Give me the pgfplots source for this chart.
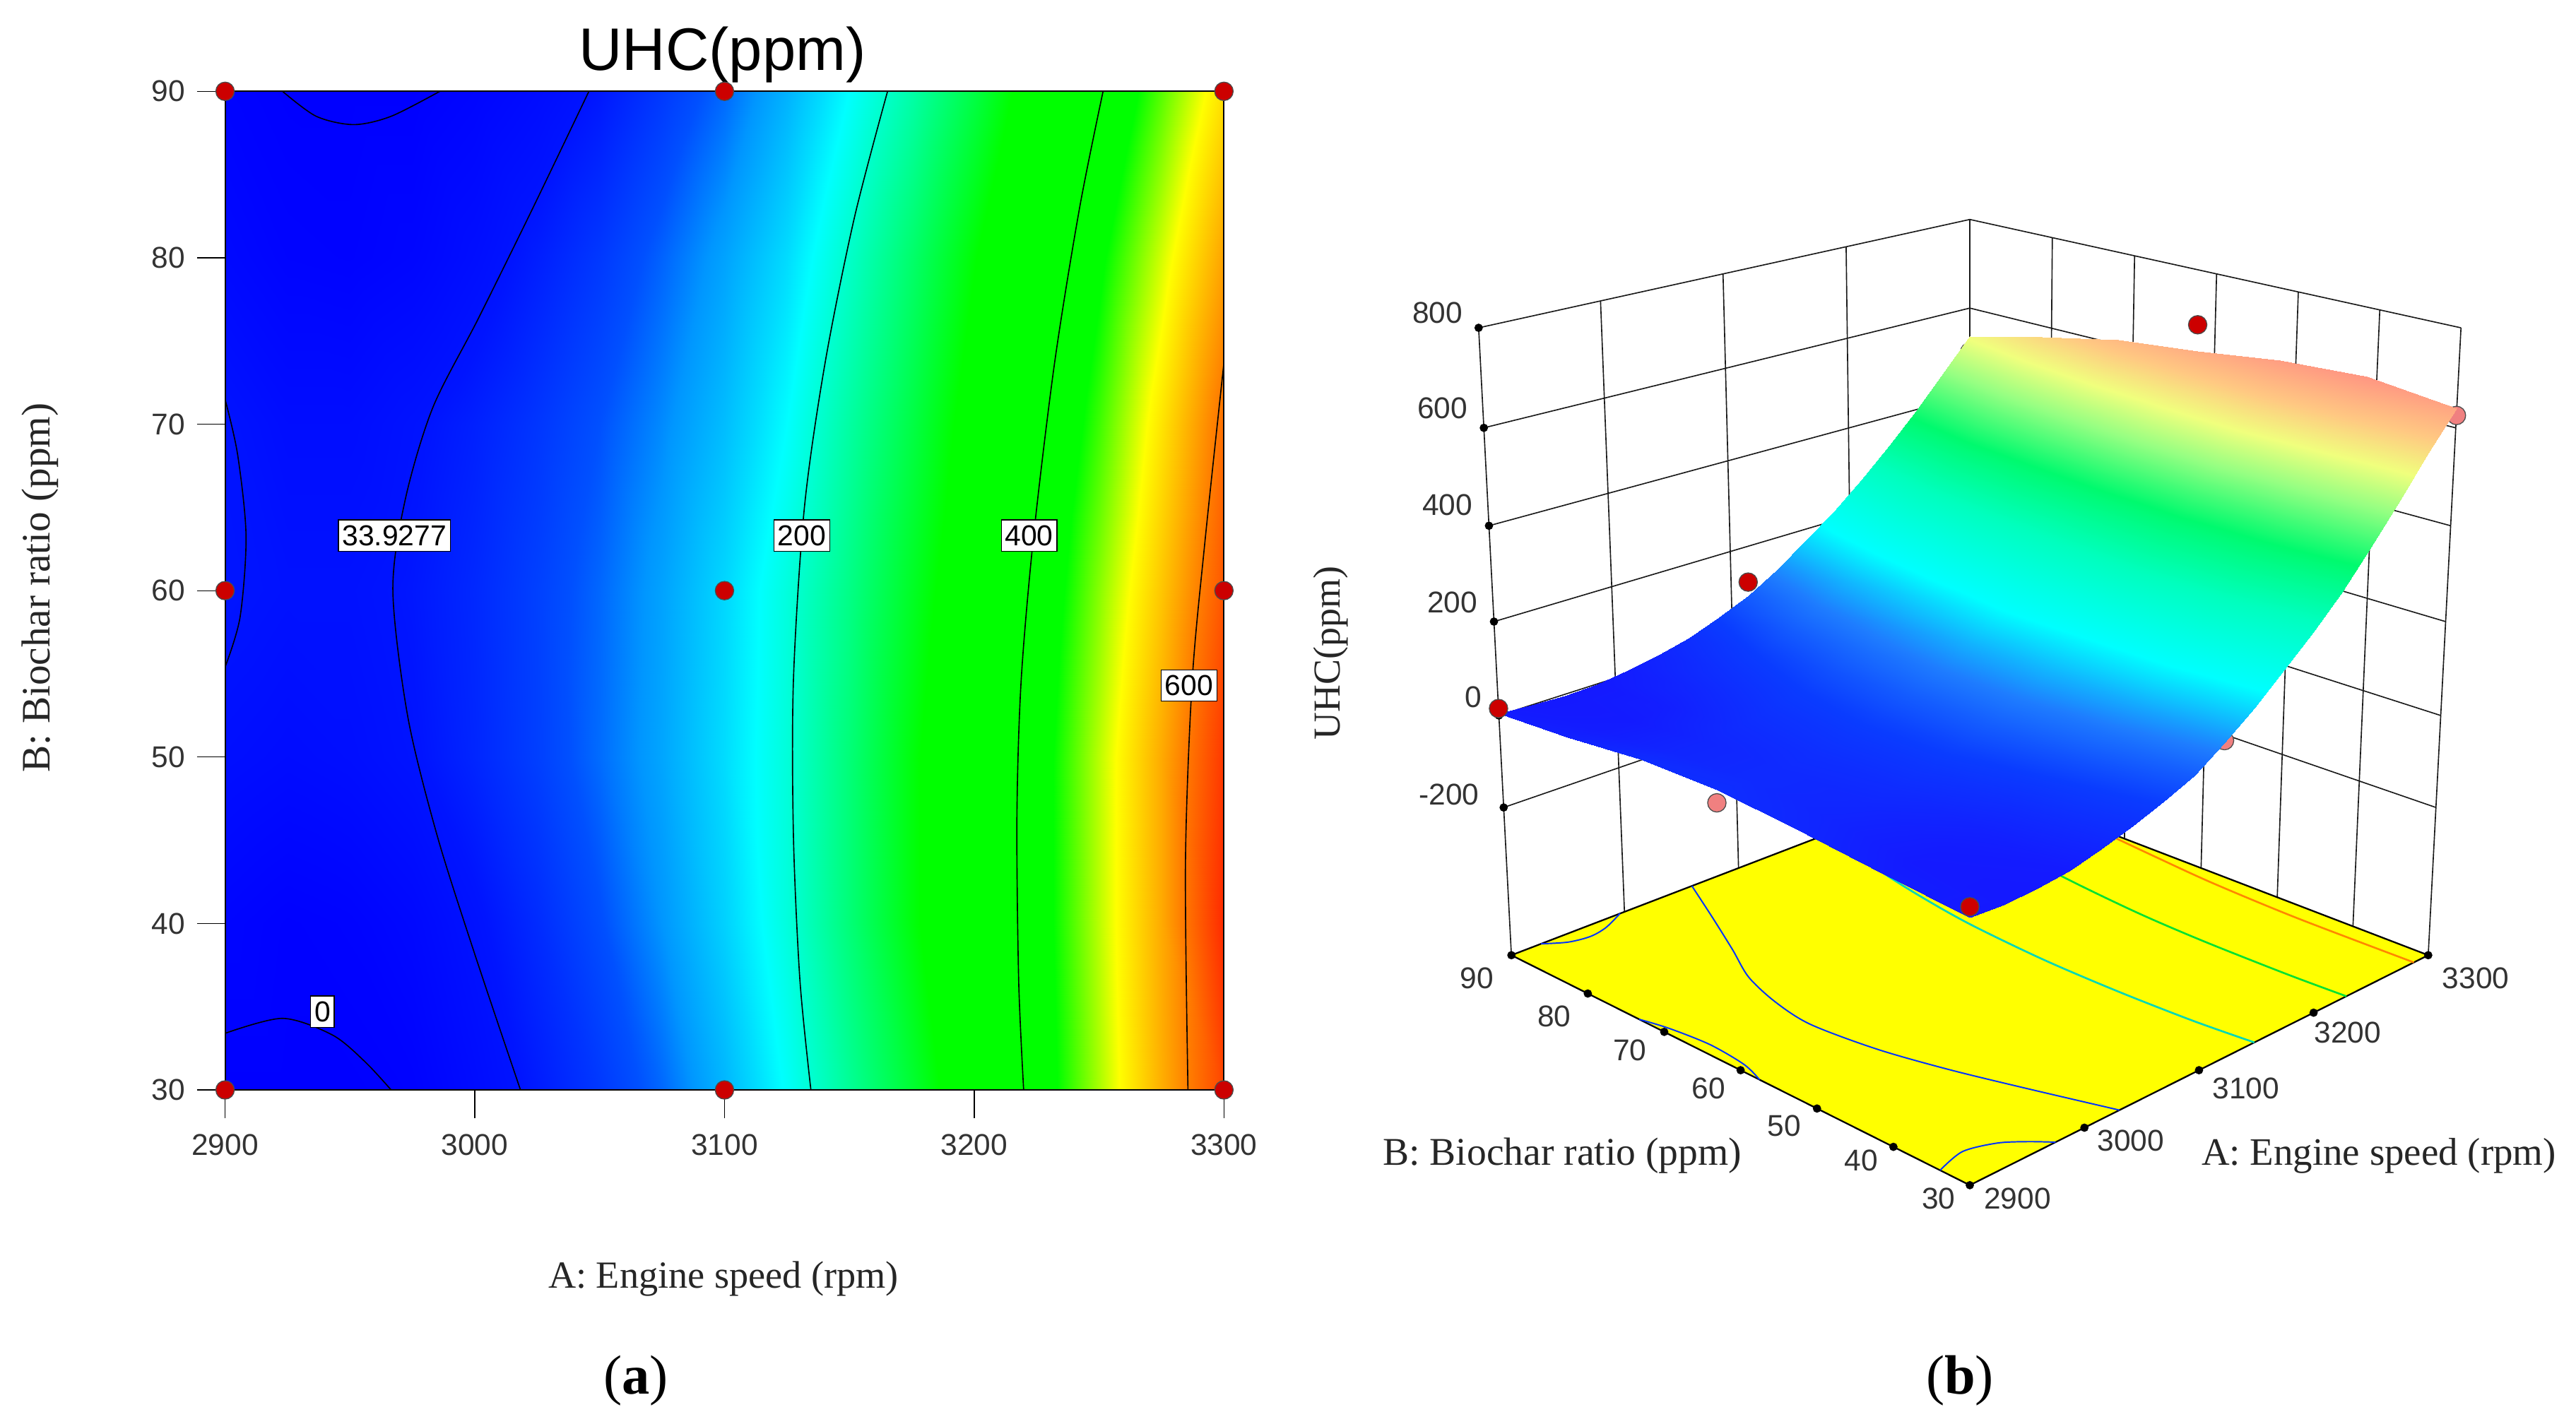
\documentclass[border=0pt]{standalone}
\usepackage{pgfplots}
\usepackage{pgfplotstable}
\usepackage{fontspec}
\pgfplotsset{compat=1.18}
\setmainfont{Liberation Sans}
\newfontfamily\serif{Liberation Serif}
\definecolor{floorY}{RGB}{255,255,0}
\definecolor{dotR}{RGB}{204,0,0}
\definecolor{dotP}{RGB}{240,128,128}

% response surface: A (rpm), B (ppm), UHC (ppm)
\pgfplotstableread[row sep=\\]{
a b u \\
3300 90 535 \\ 3275 90 465 \\ 3250 90 397 \\ 3225 90 335 \\ 3200 90 275 \\ 3175 90 222 \\ 3150 90 175 \\ 3125 90 128 \\ 3100 90 90 \\ 3075 90 62 \\ 3050 90 37 \\ 3025 90 20 \\ 3000 90 8 \\ 2975 90 -1 \\ 2950 90 -3 \\ 2925 90 0 \\ 2900 90 5 \\
3300 80 575 \\ 3275 80 502 \\ 3250 80 433 \\ 3225 80 368 \\ 3200 80 310 \\ 3175 80 255 \\ 3150 80 204 \\ 3125 80 155 \\ 3100 80 118 \\ 3075 80 88 \\ 3050 80 62 \\ 3025 80 42 \\ 3000 80 24 \\ 2975 80 10 \\ 2950 80 4 \\ 2925 80 6 \\ 2900 80 15 \\
3300 70 610 \\ 3275 70 532 \\ 3250 70 458 \\ 3225 70 390 \\ 3200 70 330 \\ 3175 70 275 \\ 3150 70 225 \\ 3125 70 175 \\ 3100 70 135 \\ 3075 70 105 \\ 3050 70 80 \\ 3025 70 60 \\ 3000 70 44 \\ 2975 70 32 \\ 2950 70 22 \\ 2925 70 22 \\ 2900 70 33 \\
3300 60 628 \\ 3275 60 552 \\ 3250 60 480 \\ 3225 60 408 \\ 3200 60 345 \\ 3175 60 292 \\ 3150 60 240 \\ 3125 60 193 \\ 3100 60 152 \\ 3075 60 118 \\ 3050 60 90 \\ 3025 60 68 \\ 3000 60 50 \\ 2975 60 37 \\ 2950 60 30 \\ 2925 60 30 \\ 2900 60 36 \\
3300 50 650 \\ 3275 50 570 \\ 3250 50 495 \\ 3225 50 420 \\ 3200 50 360 \\ 3175 50 305 \\ 3150 50 248 \\ 3125 50 195 \\ 3100 50 155 \\ 3075 50 120 \\ 3050 50 92 \\ 3025 50 67 \\ 3000 50 48 \\ 2975 50 33 \\ 2950 50 24 \\ 2925 50 20 \\ 2900 50 25 \\
3300 40 660 \\ 3275 40 570 \\ 3250 40 495 \\ 3225 40 420 \\ 3200 40 360 \\ 3175 40 305 \\ 3150 40 248 \\ 3125 40 193 \\ 3100 40 148 \\ 3075 40 110 \\ 3050 40 78 \\ 3025 40 52 \\ 3000 40 31 \\ 2975 40 14 \\ 2950 40 5 \\ 2925 40 2 \\ 2900 40 8 \\
3300 30 640 \\ 3275 30 567 \\ 3250 30 490 \\ 3225 30 415 \\ 3200 30 345 \\ 3175 30 285 \\ 3150 30 231 \\ 3125 30 178 \\ 3100 30 130 \\ 3075 30 90 \\ 3050 30 62 \\ 3025 30 40 \\ 3000 30 20 \\ 2975 30 3 \\ 2950 30 -4 \\ 2925 30 -8 \\ 2900 30 -5 \\
}\uhcdata

% contour lines, all at the floor level when they go on panel (b)
\pgfplotstableread[row sep=\\]{
a b \\ 2900 33.4 \\ 2923 34.3 \\ 2943 33.3 \\ 2956 31.7 \\ 2966.5 30 \\
}\czeroa
\pgfplotstableread[row sep=\\]{
a b \\ 2923 90 \\ 2936.5 88.5 \\ 2951.5 88 \\ 2966.5 88.5 \\ 2986 90 \\
}\czerob
\pgfplotstableread[row sep=\\]{
a b \\ 2900 71.5 \\ 2905 68.2 \\ 2908.4 63.3 \\ 2906 58.4 \\ 2900 55.4 \\
}\cear
\pgfplotstableread[row sep=\\]{
a b \\ 3045.7 90 \\ 3023.3 83 \\ 3001.6 76.4 \\ 2983.2 71 \\ 2972.2 65.5 \\ 2967.2 60 \\ 2973.2 52.4 \\ 2984.9 45.3 \\ 2999.9 38.2 \\ 3018.3 30 \\
}\cmid
\pgfplotstableread[row sep=\\]{
a b \\ 3165.3 90 \\ 3152 82.4 \\ 3140.3 73.7 \\ 3132 65 \\ 3127.6 54.6 \\ 3127.6 45.3 \\ 3130.2 36.6 \\ 3134.6 30 \\
}\ctwo
\pgfplotstableread[row sep=\\]{
a b \\ 3251.6 90 \\ 3242.2 83 \\ 3232.2 73.7 \\ 3223.8 63.3 \\ 3218.8 54.6 \\ 3217.1 46.4 \\ 3217.8 36.6 \\ 3219.8 30 \\
}\cfour
\pgfplotstableread[row sep=\\]{
a b \\ 3300 73.7 \\ 3292.3 62.8 \\ 3287.3 54.6 \\ 3284.6 43.7 \\ 3285.6 30 \\
}\csix

% design points of panel (a)
\pgfplotstableread[row sep=\\]{
a b \\ 2900 30 \\ 3100 30 \\ 3300 30 \\ 2900 60 \\ 3100 60 \\ 3300 60 \\ 2900 90 \\ 3100 90 \\ 3300 90 \\
}\design

% box of panel (b)
\pgfplotstableread[row sep=\\]{
a b u \\
2900 90 -530 \\ 2900 90 800 \\ nan nan nan \\
3000 90 -530 \\ 3000 90 800 \\ nan nan nan \\
3100 90 -530 \\ 3100 90 800 \\ nan nan nan \\
3200 90 -530 \\ 3200 90 800 \\ nan nan nan \\
3300 90 -530 \\ 3300 90 800 \\ nan nan nan \\
3300 80 -530 \\ 3300 80 800 \\ nan nan nan \\
3300 70 -530 \\ 3300 70 800 \\ nan nan nan \\
3300 60 -530 \\ 3300 60 800 \\ nan nan nan \\
3300 50 -530 \\ 3300 50 800 \\ nan nan nan \\
3300 40 -530 \\ 3300 40 800 \\ nan nan nan \\
3300 30 -530 \\ 3300 30 800 \\ nan nan nan \\
2900 90 800 \\ 3300 90 800 \\ 3300 30 800 \\ nan nan nan \\
2900 90 600 \\ 3300 90 600 \\ 3300 30 600 \\ nan nan nan \\
2900 90 400 \\ 3300 90 400 \\ 3300 30 400 \\ nan nan nan \\
2900 90 200 \\ 3300 90 200 \\ 3300 30 200 \\ nan nan nan \\
2900 90 0 \\ 3300 90 0 \\ 3300 30 0 \\ nan nan nan \\
2900 90 -200 \\ 3300 90 -200 \\ 3300 30 -200 \\
}\boxlines
\pgfplotstableread[row sep=\\]{
a b u \\ 2900 30 -530 \\ 3300 30 -530 \\ 3300 90 -530 \\ 2900 90 -530 \\ 2900 30 -530 \\
}\floorlines
\pgfplotstableread[row sep=\\]{
a b u \\
2900 90 800 \\ 2900 90 600 \\ 2900 90 400 \\ 2900 90 200 \\ 2900 90 0 \\ 2900 90 -200 \\
2900 90 -530 \\ 2900 80 -530 \\ 2900 70 -530 \\ 2900 60 -530 \\ 2900 50 -530 \\ 2900 40 -530 \\ 2900 30 -530 \\
3000 30 -530 \\ 3100 30 -530 \\ 3200 30 -530 \\ 3300 30 -530 \\
}\tickdots
\pgfplotstableread[row sep=\\]{
a b u \\ 3100 90 120 \\ 3300 60 684 \\
}\darkpts
\pgfplotstableread[row sep=\\]{
a b u \\ 2900 60 10 \\ 3100 30 135 \\ 3300 90 500 \\ 3300 30 625 \\
}\palepts
\pgfplotstableread[row sep=\\]{
a b u \\ 2900 90 15 \\ 2900 30 15 \\
}\frontpts

% perspective of the box in panel (b), result in picture units
\newcommand{\prd}[3]{(1+0.154*((#1)+(#2))-0.077*(#3))}
\newcommand{\prx}[3]{1199+322*((#1)-(#2))/\prd{#1}{#2}{#3}}
\newcommand{\pry}[3]{145+(161.6*((#1)+(#2))+400.6*(#3))/\prd{#1}{#2}{#3}}
\newcommand{\ua}{((\thisrow{a}-2900)/400)}
\newcommand{\vb}{((\thisrow{b}-30)/60)}
\newcommand{\wu}{((\thisrow{u}+530)/1330)}
% the box's grid and ticks are evenly spaced along its edges
\newcommand{\ual}{(0.8665*\ua/(1-0.1335*\ua))}
\newcommand{\vbl}{(0.8665*\vb/(1-0.1335*\vb))}
\pgfplotsset{
  /pgfplots/table/proj/.style={x expr={\prx{\ua}{\vb}{\wu}}, y expr={\pry{\ua}{\vb}{\wu}}},
  /pgfplots/table/projbox/.style={x expr={\prx{\ual}{\vbl}{\wu}}, y expr={\pry{\ual}{\vbl}{\wu}}},
  /pgfplots/table/projfloor/.style={x expr={\prx{\ua}{\vb}{0}}, y expr={\pry{\ua}{\vb}{0}}},
  flatmap/.style={colormap={uhcflat}{rgb255(0)=(0,0,255) rgb255(35)=(0,20,255) rgb255(80)=(0,80,255) rgb255(110)=(0,150,255) rgb255(155)=(0,220,255) rgb255(175)=(0,255,255) rgb255(312)=(0,255,0) rgb255(440)=(0,255,0) rgb255(515)=(255,255,0) rgb255(597)=(255,128,0) rgb255(690)=(255,0,0)}},
  litmap/.style={colormap={uhclit}{rgb255(0)=(20,25,255) rgb255(60)=(10,60,255) rgb255(120)=(30,125,255) rgb255(200)=(0,255,255) rgb255(300)=(0,255,190) rgb255(385)=(0,250,110) rgb255(470)=(150,255,130) rgb255(530)=(240,255,125) rgb255(590)=(255,200,130) rgb255(660)=(255,150,130)}},
  panelA/.style={
    at={(3.425cm,5.075cm)}, anchor=south west,
    scale only axis, width=15.2cm, height=15.2cm,
    xmin=2900, xmax=3300, ymin=30, ymax=90,
  },
  panelB/.style={
    at={(19.5cm,1.5cm)}, anchor=south west,
    scale only axis, width=19.7cm, height=17.5cm,
    xmin=780, xmax=1568, ymin=60, ymax=760,
    hide axis, clip=false,
  },
  dpt/.style={only marks, mark=*, mark size=4pt, mark options={fill=#1, draw=black!70, line width=0.4pt}},
}
\newcommand{\tl}{\fontsize{13}{13}\selectfont\color{black!80}}

\begin{document}
\begin{tikzpicture}
\path[use as bounding box] (0,0) rectangle (39.2cm,21.665cm);

\begin{axis}[
    panelA, flatmap,
    axis on top,
    point meta min=0, point meta max=690,
    xtick={2900,3000,3100,3200,3300},
    ytick={30,40,50,60,70,80,90},
    xtick pos=bottom, ytick pos=left,
    tick align=outside,
    major tick length=0.43cm,
    tick style={black, line width=0.4pt},
    axis line style={black, line width=0.6pt},
    tick label style={font=\tl, /pgf/number format/assume math mode=true, /pgf/number format/1000 sep={}},
    xticklabel style={yshift=-3.5pt},
    yticklabel style={xshift=-1.5pt},
    xlabel={\serif A: Engine speed (rpm)},
    ylabel={\serif B: Biochar ratio (ppm)},
    xlabel style={font=\fontsize{16.6}{16.6}\selectfont\color{black!85}, at={(axis description cs:0.499,-0.189)}, anchor=center},
    ylabel style={font=\fontsize{17.5}{17.5}\selectfont\color{black!85}, at={(axis description cs:-0.185,0.503)}, anchor=center},
    title={UHC(ppm)},
    title style={font=\fontsize{26}{26}\selectfont, at={(axis description cs:0.498,1.023)}, anchor=center, yshift=0pt},
]
    \addplot[surf, shader=interp, mesh/rows=7, point meta=explicit] table[x=a, y=b, meta=u] {\uhcdata};
    \addplot[black, line width=0.5pt, smooth] table[x=a, y=b] {\czeroa};
    \addplot[black, line width=0.5pt, smooth] table[x=a, y=b] {\czerob};
    \addplot[black, line width=0.5pt, smooth] table[x=a, y=b] {\cear};
    \addplot[black, line width=0.5pt, smooth] table[x=a, y=b] {\cmid};
    \addplot[black, line width=0.5pt, smooth] table[x=a, y=b] {\ctwo};
    \addplot[black, line width=0.5pt, smooth] table[x=a, y=b] {\cfour};
    \addplot[black, line width=0.5pt, smooth] table[x=a, y=b] {\csix};
\end{axis}

% dots and contour labels sit over the frame
\begin{axis}[panelA, hide axis, clip=false]
    \addplot[dpt=dotR] table[x=a, y=b] {\design};
    \tikzset{clab/.style={draw=black, fill=white, line width=0.4pt, inner xsep=1.6pt, inner ysep=2.4pt, font=\fontsize{12.5}{12.5}\selectfont}}
    \node[clab] at (axis cs:2967.8,63.3) {33.9277};
    \node[clab] at (axis cs:3131,63.3) {200};
    \node[clab] at (axis cs:3222,63.3) {400};
    \node[clab] at (axis cs:3286,54.3) {600};
    \node[clab] at (axis cs:2939,34.7) {0};
\end{axis}

% panel (b), what lies behind the surface
\begin{axis}[panelB]
    \addplot[black!90, line width=0.5pt, unbounded coords=jump] table[projbox] {\boxlines};
    \addplot[dpt=dotR] table[proj] {\darkpts};
    \addplot[fill=floorY, draw=black, line width=0.7pt] table[projfloor] {\floorlines} -- cycle;
    \addplot[blue!80!cyan, line width=0.6pt, smooth] table[projfloor] {\czeroa};
    \addplot[blue!80!cyan, line width=0.6pt, smooth] table[projfloor] {\czerob};
    \addplot[blue!80!cyan, line width=0.6pt, smooth] table[projfloor] {\cear};
    \addplot[blue!80!cyan, line width=0.6pt, smooth] table[projfloor] {\cmid};
    \addplot[color={rgb,255:red,0;green,215;blue,185}, line width=0.8pt, smooth] table[projfloor] {\ctwo};
    \addplot[color={rgb,255:red,0;green,225;blue,50}, line width=0.8pt, smooth] table[projfloor] {\cfour};
    \addplot[color={rgb,255:red,255;green,135;blue,0}, line width=0.8pt, smooth] table[projfloor] {\csix};
    \addplot[only marks, mark=*, mark size=1.6pt, black] table[projbox] {\tickdots};
    \addplot[dpt=dotP] table[proj] {\palepts};
\end{axis}

\begin{axis}[panelB, litmap, point meta min=0, point meta max=660]
    \addplot[surf, shader=interp, mesh/rows=7, point meta=explicit] table[proj, meta=u] {\uhcdata};
    \addplot[dpt=dotR] table[proj] {\frontpts};

    \tikzset{tk/.style={font=\tl, anchor=center, inner sep=0pt}}
    \node[tk] at (axis cs:875,676) {800};
    \node[tk] at (axis cs:878,618) {600};
    \node[tk] at (axis cs:881,559) {400};
    \node[tk] at (axis cs:884,500) {200};
    \node[tk] at (axis cs:897,442) {0};
    \node[tk] at (axis cs:882,383) {-200};
    \node[tk] at (axis cs:899,271) {90};
    \node[tk] at (axis cs:946,248) {80};
    \node[tk] at (axis cs:992,227) {70};
    \node[tk] at (axis cs:1040,204) {60};
    \node[tk] at (axis cs:1086,181) {50};
    \node[tk] at (axis cs:1133,160) {40};
    \node[tk] at (axis cs:1180,137) {30};
    \node[tk] at (axis cs:1228,137) {2900};
    \node[tk] at (axis cs:1297,172) {3000};
    \node[tk] at (axis cs:1367,204) {3100};
    \node[tk] at (axis cs:1429,238) {3200};
    \node[tk] at (axis cs:1507,271) {3300};
    \node[font=\serif\fontsize{17}{17}\selectfont\color{black!85}, inner sep=0pt] at (axis cs:951,163) {B: Biochar ratio (ppm)};
    \node[font=\serif\fontsize{16.8}{16.8}\selectfont\color{black!85}, inner sep=0pt] at (axis cs:1448,163) {A: Engine speed (rpm)};
    \node[font=\serif\fontsize{16.5}{16.5}\selectfont\color{black!85}, inner sep=0pt, rotate=90] at (axis cs:810,469) {UHC(ppm)};
\end{axis}

\node[font=\serif\fontsize{24}{24}\selectfont] at (9.675cm,0.65cm) {(\textbf{a})};
\node[font=\serif\fontsize{24}{24}\selectfont] at (29.825cm,0.65cm) {(\textbf{b})};
\end{tikzpicture}
\end{document}
